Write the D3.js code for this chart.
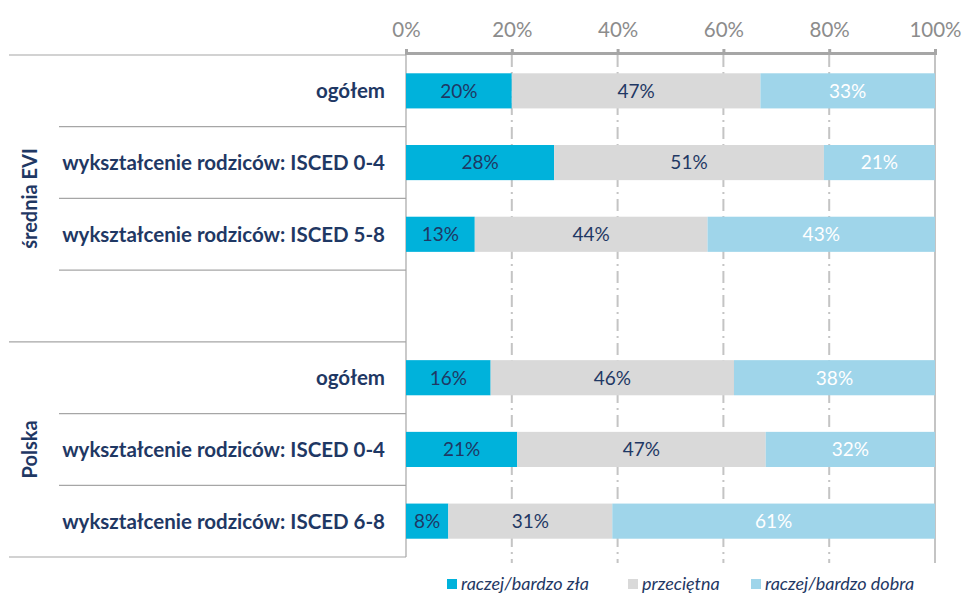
<!DOCTYPE html>
<html>
<head>
<meta charset="utf-8">
<script src="https://cdn.jsdelivr.net/npm/d3@7/dist/d3.min.js"></script>
<style>
  body { margin: 0; background: #fff; }
  svg { display: block; font-family: Lato, "Open Sans", sans-serif; }
  .cat-label { font-weight: bold; fill: #1f3864; font-size: 20.5px; }
  .group-label { font-weight: bold; fill: #1f3864; font-size: 20px; }
  .tick text { fill: #8c8c8c; font-size: 20.5px; }
  .val-label { font-size: 19px; }
  .legend text { font-style: italic; fill: #1f3864; font-size: 18px; }
</style>
</head>
<body>
<div id="chart"></div>
<script>
// Data: rows top to bottom (empty row separates the two groups)
const groups = ["średnia EVI", "Polska"];
const rowGroup = ["średnia EVI", "średnia EVI", "średnia EVI", "średnia EVI", "Polska", "Polska", "Polska"];
const rowLabels = [
  "ogółem",
  "wykształcenie rodziców: ISCED 0-4",
  "wykształcenie rodziców: ISCED 5-8",
  "",
  "ogółem",
  "wykształcenie rodziców: ISCED 0-4",
  "wykształcenie rodziców: ISCED 6-8"
];
const seriesNames = ["raczej/bardzo zła", "przeciętna", "raczej/bardzo dobra"];
const bad     = [20, 28, 13, null, 16, 21, 8];
const average = [47, 51, 44, null, 46, 47, 31];
const good    = [33, 21, 43, null, 38, 32, 61];
const tickValues = [0, 20, 40, 60, 80, 100];

const colors = ["#00b2db", "#d9d9d9", "#9fd5ea"];
const labelColors = ["#1f3864", "#1f3864", "#ffffff"];

const width = 966, height = 597;
const margin = {top: 55, right: 31, bottom: 40, left: 406};

const svg = d3.select("#chart").append("svg")
  .attr("width", width)
  .attr("height", height);

const x = d3.scaleLinear().domain([0, 100]).range([margin.left, width - margin.right]);
const y = d3.scaleBand()
  .domain(d3.range(rowLabels.length))
  .range([margin.top, height - margin.bottom])
  .paddingInner(0.51)
  .paddingOuter(0.255);

const step = y.step();
const rowTop = i => margin.top + i * step;

// build stacked table
const table = rowLabels.map((label, i) => ({
  i: i, label: label, vals: [bad[i], average[i], good[i]]
}));

// dashed gridlines
svg.append("g")
  .selectAll("line")
  .data(tickValues.filter(d => d > 0))
  .join("line")
  .attr("x1", d => x(d)).attr("x2", d => x(d))
  .attr("y1", margin.top).attr("y2", rowTop(rowLabels.length) + 6)
  .attr("stroke", "#c4c4c4")
  .attr("stroke-width", 2)
  .attr("stroke-dasharray", d => d === 100 ? null : "12,5,2,5");

// row separators on the left
const sepLines = d3.range(rowLabels.length + 1).map(i => ({
  y: rowTop(i),
  full: i === 0 || i === rowLabels.length || rowGroup[i] !== rowGroup[i - 1]
}));
svg.append("g")
  .selectAll("line")
  .data(sepLines)
  .join("line")
  .attr("x1", d => d.full ? 9 : 59)
  .attr("x2", margin.left)
  .attr("y1", d => d.y).attr("y2", d => d.y)
  .attr("stroke", "#a6a6a6")
  .attr("stroke-width", 1.2);

// left vertical axis line
svg.append("line")
  .attr("x1", margin.left).attr("x2", margin.left)
  .attr("y1", margin.top).attr("y2", rowTop(rowLabels.length))
  .attr("stroke", "#a6a6a6")
  .attr("stroke-width", 1.2);

// bars
const rows = svg.append("g")
  .selectAll("g")
  .data(table.filter(d => d.vals[0] !== null))
  .join("g");

rows.each(function(d) {
  let acc = 0;
  const segs = d.vals.map((v, k) => {
    const s = {k: k, x0: acc, x1: acc + v, v: v};
    acc += v;
    return s;
  });
  const g = d3.select(this);
  g.selectAll("rect")
    .data(segs)
    .join("rect")
    .attr("x", s => x(s.x0))
    .attr("width", s => x(s.x1) - x(s.x0))
    .attr("y", y(d.i))
    .attr("height", y.bandwidth())
    .attr("fill", s => colors[s.k]);
  g.selectAll("text")
    .data(segs)
    .join("text")
    .attr("class", "val-label")
    .attr("x", s => (x(s.x0) + x(s.x1)) / 2)
    .attr("y", y(d.i) + y.bandwidth() / 2)
    .attr("dy", "0.36em")
    .attr("text-anchor", "middle")
    .attr("fill", s => labelColors[s.k])
    .text(s => s.v + "%");
});

// category labels
svg.append("g")
  .selectAll("text")
  .data(table)
  .join("text")
  .attr("class", "cat-label")
  .attr("x", 385)
  .attr("y", d => y(d.i) + y.bandwidth() / 2)
  .attr("dy", "0.36em")
  .attr("text-anchor", "end")
  .text(d => d.label);

// group labels (rotated)
svg.append("g")
  .selectAll("text")
  .data(groups)
  .join("text")
  .attr("class", "group-label")
  .attr("transform", gName => {
    const idx = rowGroup.map((g, i) => g === gName ? i : -1).filter(i => i >= 0);
    const cy = (rowTop(d3.min(idx)) + rowTop(d3.max(idx) + 1)) / 2;
    return `translate(30,${cy}) rotate(-90)`;
  })
  .attr("dy", "0.36em")
  .attr("text-anchor", "middle")
  .text(d => d);

// top axis
const axis = svg.append("g")
  .attr("transform", `translate(0,${margin.top - 2})`)
  .call(d3.axisTop(x).tickValues(tickValues).tickFormat(d => d + "%").tickSize(4).tickPadding(12));
axis.select(".domain").attr("stroke", "#a6a6a6").attr("stroke-width", 3);
axis.selectAll(".tick line").attr("stroke", "#a6a6a6").attr("stroke-width", 3);
axis.selectAll(".tick text").attr("font-family", "Lato, sans-serif");

// legend
const legendX = [447, 628, 751];
const legend = svg.append("g").attr("class", "legend")
  .selectAll("g")
  .data(seriesNames)
  .join("g")
  .attr("transform", (d, i) => `translate(${legendX[i]},584)`);
legend.append("rect")
  .attr("x", 0).attr("y", -5).attr("width", 10).attr("height", 10)
  .attr("fill", (d, i) => colors[i]);
legend.append("text")
  .attr("x", 14).attr("dy", "0.36em")
  .text(d => d);
</script>
</body>
</html>
